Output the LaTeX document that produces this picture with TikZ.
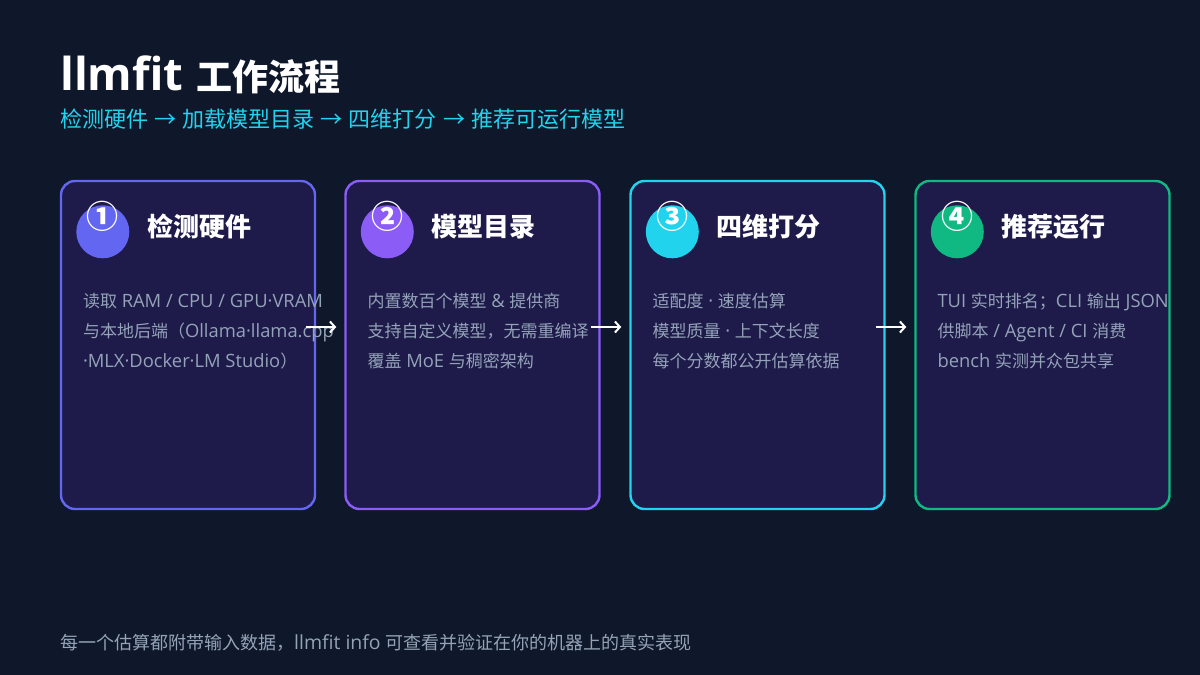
\documentclass[tikz,border=0pt]{standalone}
\usepackage{fontspec}
\setmainfont{Open Sans}[Scale=1.08]
\newfontfamily\cjkfont{Noto Sans CJK SC}
\newfontfamily\westfont{Open Sans}[Scale=1.08]
% switch fonts between Latin and CJK runs
\XeTeXinterchartokenstate=1
\newXeTeXintercharclass\CjkClass
\count255="2190 \loop\XeTeXcharclass\count255=\CjkClass\ifnum\count255<"21FF\advance\count255 by 1\repeat
\count255="2460 \loop\XeTeXcharclass\count255=\CjkClass\ifnum\count255<"24FF\advance\count255 by 1\repeat
\count255="3000 \loop\XeTeXcharclass\count255=\CjkClass\ifnum\count255<"303F\advance\count255 by 1\repeat
\count255="4E00 \loop\XeTeXcharclass\count255=\CjkClass\ifnum\count255<"9FFF\advance\count255 by 1\repeat
\count255="FF00 \loop\XeTeXcharclass\count255=\CjkClass\ifnum\count255<"FFEF\advance\count255 by 1\repeat
\XeTeXinterchartoks 0 \CjkClass = {\cjkfont}
\XeTeXinterchartoks 4095 \CjkClass = {\cjkfont}
\XeTeXinterchartoks \CjkClass 0 = {\westfont}
\XeTeXinterchartoks \CjkClass 4095 = {\westfont}
\usetikzlibrary{arrows.meta,positioning,calc}
\definecolor{PageBg}     {HTML}{0F172A}
\definecolor{CardBg}     {HTML}{1E1B4B}
\definecolor{StepIndigo} {HTML}{6366F1}
\definecolor{StepViolet} {HTML}{8B5CF6}
\definecolor{StepCyan}   {HTML}{22D3EE}
\definecolor{StepGreen}  {HTML}{10B981}
\definecolor{MutedText}  {HTML}{94A3B8}
\tikzset{
  card/.style={rectangle,rounded corners=14pt,draw=#1,line width=2.4pt,
               fill=CardBg,minimum width=254pt,minimum height=328pt,inner sep=0pt},
  badge/.style={circle,fill=#1,minimum size=53pt,inner sep=0pt},
  digit/.style={text=white,font=\fontsize{32}{32}\selectfont\bfseries,inner sep=0pt},
  ctitle/.style={anchor=base west,text=white,inner sep=0pt,
                 font=\fontsize{26}{26}\selectfont\bfseries},
  cbody/.style={anchor=north west,align=left,text=MutedText,inner sep=0pt,
                font=\fontsize{17}{30}\selectfont},
  flow/.style={-{Straight Barb[length=5pt,width=11pt]},line width=2pt,color=white},
}

\begin{document}
\begin{tikzpicture}[x=1pt,y=1pt]

  \fill[PageBg] (0,0) rectangle (1200,675);

  % heading
  \node[anchor=base west,inner sep=0pt,text=white,
        font=\fontsize{36}{36}\selectfont\bfseries] (head) at (60,584)
        {{\fontsize{42}{42}\selectfont llmfit}\hspace{3pt} 工作流程};
  \node[anchor=base west,inner sep=0pt,text=StepCyan,
        font=\fontsize{22}{22}\selectfont] (sub) at (60,547)
        {检测硬件 → 加载模型目录 → 四维打分 → 推荐可运行模型};

  % cards
  \node[card=StepIndigo] (b1) at (188,330) {};
  \node[card=StepViolet] (b2) at (472.5,330) {};
  \node[card=StepCyan]   (b3) at (757.5,330) {};
  \node[card=StepGreen]  (b4) at (1042.5,330) {};

  \node[badge=StepIndigo] (d1) at ([xshift=43,yshift=-52]b1.north west) {};
  \node[digit] (n1) at ([yshift=15]d1.center) {①};
  \node[ctitle] (t1) at ([xshift=87,yshift=-57]b1.north west) {检测硬件};
  \node[cbody] (s1) at ([xshift=23,yshift=-113]b1.north west)
    {读取 RAM / CPU / GPU·VRAM\\与本地后端（Ollama·llama.cpp\\·MLX·Docker·LM Studio）};

  \node[badge=StepViolet] (d2) at ([xshift=43,yshift=-52]b2.north west) {};
  \node[digit] (n2) at ([yshift=15]d2.center) {②};
  \node[ctitle] (t2) at ([xshift=87,yshift=-57]b2.north west) {模型目录};
  \node[cbody] (s2) at ([xshift=23,yshift=-113]b2.north west)
    {内置数百个模型 \& 提供商\\支持自定义模型，无需重编译\\覆盖 MoE 与稠密架构};

  \node[badge=StepCyan] (d3) at ([xshift=43,yshift=-52]b3.north west) {};
  \node[digit] (n3) at ([yshift=15]d3.center) {③};
  \node[ctitle] (t3) at ([xshift=87,yshift=-57]b3.north west) {四维打分};
  \node[cbody] (s3) at ([xshift=23,yshift=-113]b3.north west)
    {适配度 · 速度估算\\模型质量 · 上下文长度\\每个分数都公开估算依据};

  \node[badge=StepGreen] (d4) at ([xshift=43,yshift=-52]b4.north west) {};
  \node[digit] (n4) at ([yshift=15]d4.center) {④};
  \node[ctitle] (t4) at ([xshift=87,yshift=-57]b4.north west) {推荐运行};
  \node[cbody] (s4) at ([xshift=23,yshift=-113]b4.north west)
    {TUI 实时排名；CLI 输出 JSON\\供脚本 / Agent / CI 消费\\bench 实测并众包共享};

  % connectors
  \draw[flow] ([xshift=-10,yshift=18]b1.east) -- ([xshift=-8,yshift=18]b2.west);
  \draw[flow] ([xshift=-10,yshift=18]b2.east) -- ([xshift=-8,yshift=18]b3.west);
  \draw[flow] ([xshift=-10,yshift=18]b3.east) -- ([xshift=-8,yshift=18]b4.west);

  % footnote
  \node[anchor=base west,inner sep=0pt,text=MutedText,
        font=\fontsize{18}{18}\selectfont] (foot) at (60,25)
        {每一个估算都附带输入数据，llmfit info 可查看并验证在你的机器上的真实表现};

\end{tikzpicture}
\end{document}
